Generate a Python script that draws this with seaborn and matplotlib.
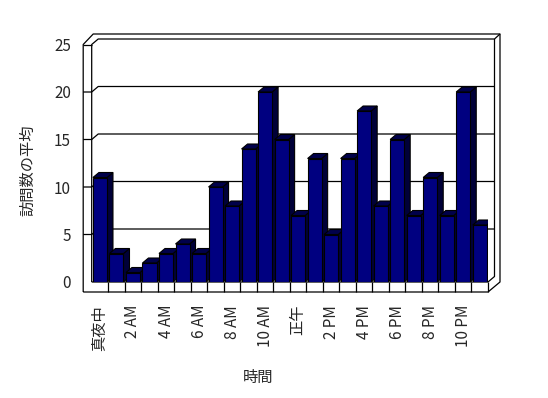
import matplotlib
matplotlib.use('Agg')
import matplotlib.pyplot as plt
import seaborn as sns
import pandas as pd
from matplotlib.patches import Polygon

# data: average visits per hour
hours = list(range(24))
visits = [11, 3, 1, 2, 3, 4, 3, 10, 8, 14, 20, 15, 7, 13, 5, 13, 18, 8, 15, 7, 11, 7, 20, 6]
tick_labels = ['真夜中', '2 AM', '4 AM', '6 AM', '8 AM', '10 AM',
               '正午', '2 PM', '4 PM', '6 PM', '8 PM', '10 PM']
y_ticks = [0, 5, 10, 15, 20, 25]

df = pd.DataFrame({'hour': hours, 'visits': visits})

sns.set_style('white')
plt.rcParams['font.family'] = ['Noto Sans CJK JP', 'DejaVu Sans']

W, H = 548, 398
fig = plt.figure(figsize=(W / 100, H / 100), dpi=100)
# front plane of the plot box in pixels
left_px, right_px, bottom_px, top_px = 91.7, 488.0, 282.0, 44.5
ax = fig.add_axes([left_px / W, 1 - bottom_px / H,
                   (right_px - left_px) / W, (bottom_px - top_px) / H])

sns.barplot(data=df, x='hour', y='visits', color='#000080', width=0.85,
            saturation=1, edgecolor='black', linewidth=0.8, ax=ax)

ax.set_xlim(-0.5, 23.5)
ax.set_ylim(0, 25)
for s in ax.spines.values():
    s.set_visible(False)

# pixel -> data scale
ppx = (right_px - left_px) / 24
ppy = (bottom_px - top_px) / 25


def pt(x, y, ox=0, oy=0):
    # data point moved by a pixel offset (oy upwards)
    return (x + ox / ppx, y + oy / ppy)


def line(points, **kw):
    xs = [p[0] for p in points]
    ys = [p[1] for p in points]
    ax.plot(xs, ys, color='black', lw=0.9, clip_on=False, solid_capstyle='butt', **kw)


L, R, B, T = -0.5, 23.5, 0, 25
wall = 8.5   # left wall thickness
floor = 10   # floor thickness
dx, dy = 6.5, 5.5  # depth of back wall

# outer silhouette
line([pt(L, B, -wall, -floor), pt(L, T, -wall), pt(L, T, -wall + 10, 10.5),
      pt(R, T, 12, 10.5), pt(R, B, 12, 0), pt(R, B, 0, -floor),
      pt(L, B, -wall, -floor)], zorder=1)
# inner edges of walls
line([pt(L, B), pt(L, T), pt(L, T, dx, dy), pt(R, T, dx, dy),
      pt(R, T, 12, 10.5)], zorder=1)
line([pt(L, T, -wall), pt(L, T)], zorder=1)
line([pt(R, T, dx, dy), pt(R, B, dx, dy), pt(R, B), pt(L, B)], zorder=1)
line([pt(R, B), pt(R, B, 0, -floor)], zorder=1)

# grid lines across left wall and back wall
for v in y_ticks[1:-1]:
    line([pt(L, v, -wall), pt(L, v), pt(L, v, dx, dy), pt(R, v, dx, dy)], zorder=1)

# category tick marks on the floor slab
for k in range(1, 24):
    line([pt(L + k, B), pt(L + k, B, 0, -floor)], zorder=1)

# 3d sides and tops of the bars
bars = list(ax.patches)
bdx, bdy = 6, 5
for i, p in enumerate(bars):
    x0 = p.get_x()
    x1 = x0 + p.get_width()
    h = p.get_height()
    z = 3 + i * 0.01
    side = Polygon([pt(x1, 0), pt(x1, 0, bdx, bdy), pt(x1, h, bdx, bdy), pt(x1, h)],
                   closed=True, facecolor='#000038', edgecolor='black', lw=0.8, zorder=z)
    top = Polygon([pt(x0, h), pt(x0, h, bdx, bdy), pt(x1, h, bdx, bdy), pt(x1, h)],
                  closed=True, facecolor='#00004a', edgecolor='black', lw=0.8, zorder=z)
    ax.add_patch(side)
    ax.add_patch(top)
    p.set_zorder(z + 0.005)

ax.set_xticks(hours[::2])
ax.set_xticklabels(tick_labels, rotation=90, fontsize=11)
ax.set_yticks(y_ticks)
ax.set_yticklabels([str(v) for v in y_ticks], fontsize=11)
ax.tick_params(axis='x', length=0, pad=16.5)
ax.tick_params(axis='y', length=0, pad=15)

ax.set_xlabel('時間', fontsize=11)
ax.set_ylabel('訪問数の平均', fontsize=11)
ax.xaxis.set_label_coords((258 - left_px) / (right_px - left_px),
                          -(377 - bottom_px) / (bottom_px - top_px))
ax.yaxis.set_label_coords((28 - left_px) / (right_px - left_px),
                          (bottom_px - 170) / (bottom_px - top_px))
ax.xaxis.label.set_va('center')
ax.yaxis.label.set_va('center')

fig.savefig('out.png', dpi=100, facecolor='white')
